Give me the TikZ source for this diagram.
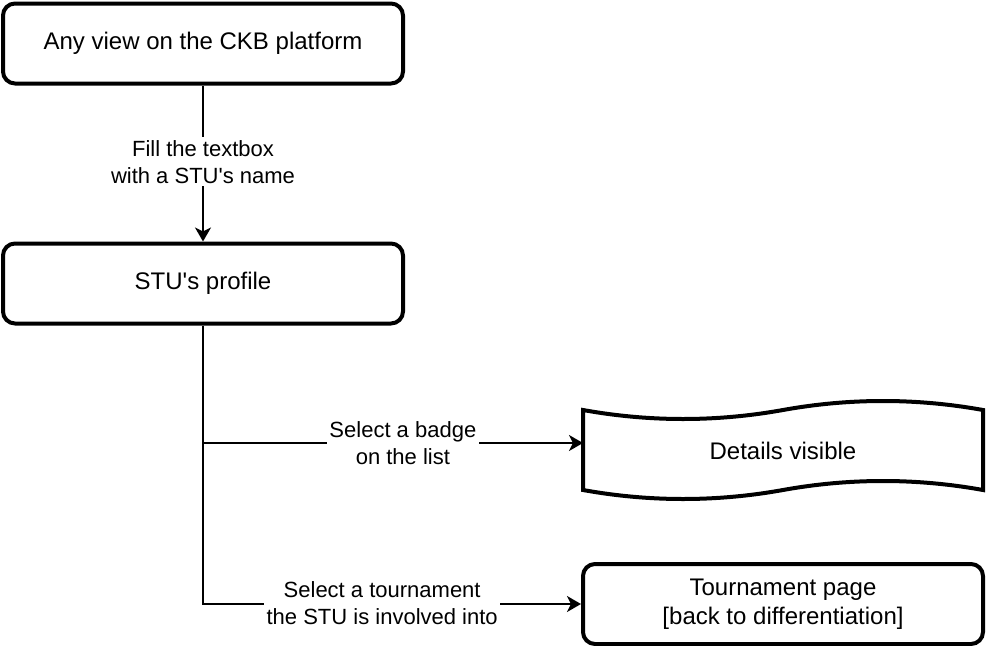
\documentclass[tikz,border=0pt]{standalone}
\usepackage{fontspec}
\setmainfont{Liberation Sans}
\usetikzlibrary{arrows.meta}
\tikzset{
  boxstyle/.style={draw=black, line width=3pt, rounded corners=9pt, minimum width=300pt, minimum height=60pt, inner sep=0pt, align=center, font=\fontsize{18pt}{21.6pt}\selectfont},
  tapetext/.style={minimum width=300pt, minimum height=60pt, inner sep=0pt, align=center, font=\fontsize{18pt}{21.6pt}\selectfont},
  tapeline/.style={draw=black, line width=3pt, line join=miter},
  conn/.style={draw=black, line width=1.5pt, -{Stealth[length=10.5pt, width=12pt, inset=3pt]}},
  elabel/.style={fill=white, inner sep=2pt, align=center, font=\fontsize{16.5pt}{20.7pt}\selectfont}
}
\begin{document}
\begin{tikzpicture}[x=0.75pt, y=-0.75pt]
\useasboundingbox (0,0) rectangle (986,646);
\node[boxstyle] (any) at (203,43.5) {Any view on the CKB platform};
\node[boxstyle] (prof) at (203,283.5) {STU\textquotesingle s profile};
\node[boxstyle] (tour) at (783,604) {Tournament page\\{}[back to differentiation]};
% tape shape
\path[tapeline] (583,410)
  .. controls (649.67,422) and (716.33,422) .. (783,410)
  .. controls (849.67,398) and (916.33,398) .. (983,410)
  -- (983,490)
  .. controls (916.33,478) and (849.67,478) .. (783,490)
  .. controls (716.33,502) and (649.67,502) .. (583,490)
  -- cycle;
\node[tapetext] (det) at (783,450.5) {Details visible};
\coordinate (detin) at (583,443);
\path[conn] (any.south) -- node[elabel, pos=0.49] (l1) {Fill the textbox\\with a STU\textquotesingle s name} (prof.north);
\path[conn] (prof.south) |- node[elabel, pos=0.763] (l2) {Select a badge\\on the list} (detin);
\path[conn] (prof.south) |- node[elabel, pos=0.737, yshift=0.75pt] (l3) {Select a tournament\\the STU is involved into} (tour.west);
\end{tikzpicture}
\end{document}
